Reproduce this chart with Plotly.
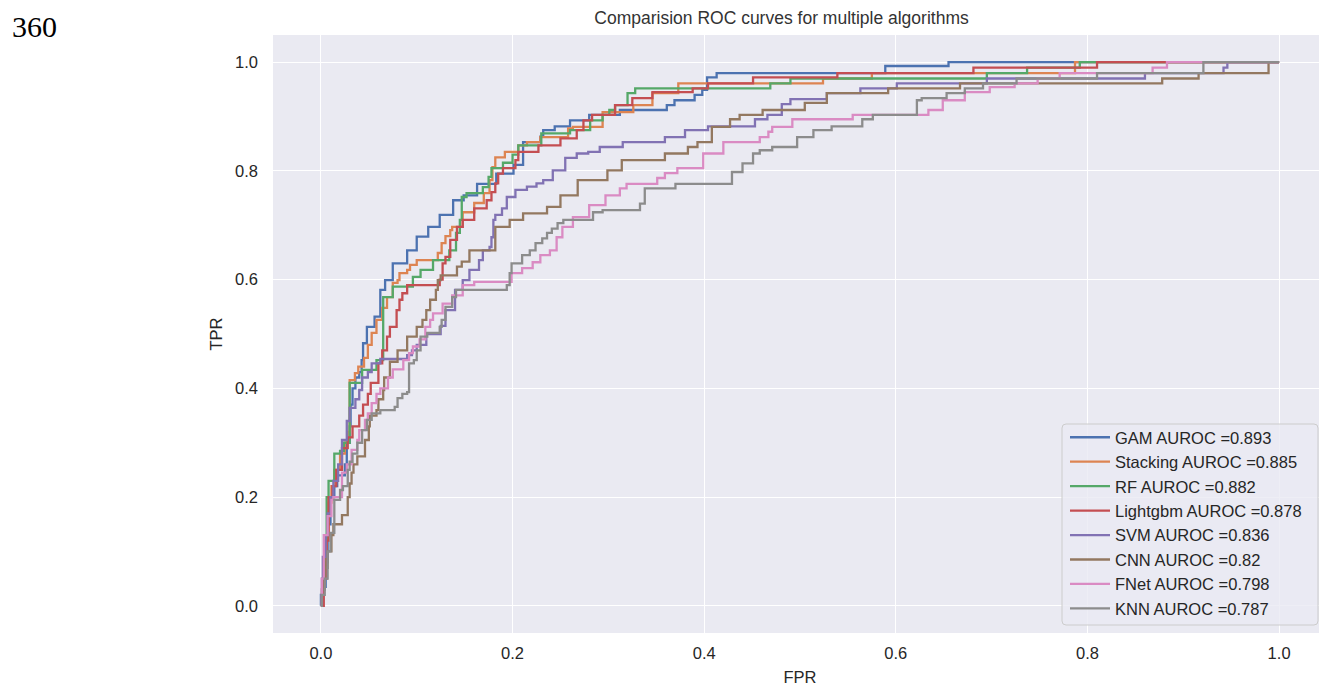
import plotly.graph_objects as go

# ---------------- data ----------------
labels = ["GAM AUROC =0.893", "Stacking AUROC =0.885", "RF AUROC =0.882",
          "Lightgbm AUROC =0.878", "SVM AUROC =0.836", "CNN AUROC =0.82",
          "FNet AUROC =0.798", "KNN AUROC =0.787"]
colors = ["#4C72B0", "#DD8452", "#55A868", "#C44E52", "#8172B3", "#937860", "#DA8BC3", "#8C8C8C"]

gam_fpr = [0, 0.0, 0.003, 0.005, 0.007, 0.01, 0.014, 0.017, 0.025, 0.027, 0.03, 0.031, 0.033, 0.036, 0.04,
           0.0425, 0.044, 0.048, 0.056, 0.062, 0.067, 0.075, 0.09, 0.1, 0.112, 0.124, 0.138, 0.149, 0.163,
           0.183, 0.201, 0.211, 0.229, 0.232, 0.244, 0.26, 0.28, 0.312, 0.361, 0.369, 0.39, 0.398, 0.403,
           0.413, 0.589, 0.655, 1.0]
gam_tpr = [0, 0.02, 0.035, 0.08, 0.15, 0.2, 0.22, 0.24, 0.26, 0.3, 0.33, 0.37, 0.4, 0.42, 0.43,
           0.452, 0.483, 0.513, 0.532, 0.581, 0.599, 0.63, 0.654, 0.679, 0.697, 0.719, 0.746, 0.755, 0.776,
           0.795, 0.811, 0.853, 0.863, 0.875, 0.882, 0.893, 0.903, 0.912, 0.921, 0.93, 0.94, 0.949, 0.972,
           0.98, 0.993, 1.0, 1.0]

stack_fpr = [0, 0.002, 0.004, 0.006, 0.008, 0.011, 0.014, 0.02, 0.025, 0.028, 0.03, 0.0355, 0.039, 0.045,
             0.049, 0.053, 0.058, 0.064, 0.069, 0.075, 0.08, 0.082, 0.09, 0.093, 0.1, 0.122, 0.126, 0.13,
             0.135, 0.137, 0.148, 0.16, 0.17, 0.176, 0.179, 0.182, 0.192, 0.206, 0.215, 0.229, 0.258, 0.263,
             0.294, 0.326, 0.346, 0.373, 0.524, 0.575, 0.787, 1.0]
stack_tpr = [0, 0.04, 0.08, 0.13, 0.19, 0.22, 0.25, 0.28, 0.3, 0.32, 0.415, 0.428, 0.44, 0.456,
             0.48, 0.502, 0.526, 0.548, 0.568, 0.594, 0.599, 0.612, 0.618, 0.627, 0.636, 0.649, 0.667, 0.68,
             0.691, 0.697, 0.724, 0.741, 0.759, 0.783, 0.807, 0.825, 0.835, 0.847, 0.853, 0.862, 0.878, 0.881,
             0.908, 0.921, 0.943, 0.961, 0.97, 0.98, 1.0, 1.0]

rf_fpr = [0, 0.002, 0.004, 0.006, 0.008, 0.014, 0.02, 0.024, 0.03, 0.043, 0.058, 0.065, 0.075, 0.096,
          0.104, 0.117, 0.134, 0.141, 0.145, 0.147, 0.152, 0.169, 0.175, 0.178, 0.19, 0.2, 0.206, 0.23,
          0.26, 0.281, 0.294, 0.301, 0.307, 0.32, 0.328, 0.469, 0.49, 0.695, 0.737, 0.792, 1.0]
rf_tpr = [0, 0.05, 0.12, 0.2, 0.23, 0.28, 0.285, 0.3, 0.41, 0.434, 0.452, 0.568, 0.587, 0.605,
          0.618, 0.636, 0.654, 0.686, 0.71, 0.752, 0.759, 0.77, 0.789, 0.805, 0.815, 0.83, 0.847, 0.869,
          0.875, 0.893, 0.903, 0.912, 0.921, 0.943, 0.952, 0.961, 0.97, 0.98, 0.99, 1.0, 1.0]

lgb_fpr = [0, 0.003, 0.006, 0.008, 0.012, 0.016, 0.022, 0.028, 0.033, 0.04, 0.044, 0.049, 0.052, 0.06,
           0.064, 0.069, 0.072, 0.079, 0.082, 0.085, 0.09, 0.124, 0.127, 0.13, 0.135, 0.142, 0.148, 0.16,
           0.173, 0.178, 0.182, 0.185, 0.19, 0.203, 0.206, 0.227, 0.25, 0.267, 0.274, 0.283, 0.307, 0.325,
           0.346, 0.388, 0.404, 0.451, 0.539, 0.681, 0.81, 1.0]
lgb_tpr = [0, 0.05, 0.12, 0.2, 0.22, 0.25, 0.29, 0.31, 0.33, 0.35, 0.37, 0.39, 0.41, 0.446,
           0.47, 0.495, 0.513, 0.544, 0.563, 0.575, 0.59, 0.6, 0.63, 0.642, 0.673, 0.697, 0.71, 0.731,
           0.746, 0.761, 0.777, 0.795, 0.805, 0.82, 0.835, 0.847, 0.86, 0.875, 0.893, 0.903, 0.921, 0.934,
           0.945, 0.952, 0.961, 0.972, 0.98, 0.99, 1.0, 1.0]

svm_fpr = [0, 0.001, 0.002, 0.005, 0.007, 0.01, 0.013, 0.018, 0.022, 0.027, 0.03, 0.036, 0.04, 0.043,
           0.049, 0.053, 0.062, 0.09, 0.095, 0.1, 0.11, 0.125, 0.13, 0.14, 0.148, 0.155, 0.165, 0.169,
           0.176, 0.178, 0.18, 0.182, 0.189, 0.194, 0.203, 0.215, 0.225, 0.232, 0.242, 0.255, 0.267, 0.279,
           0.291, 0.315, 0.359, 0.38, 0.404, 0.453, 0.466, 0.481, 0.49, 0.528, 0.563, 0.601, 0.695, 0.86,
           0.942, 0.946, 1.0]
svm_tpr = [0, 0.05, 0.09, 0.13, 0.17, 0.2, 0.23, 0.26, 0.305, 0.34, 0.364, 0.38, 0.397, 0.42,
           0.43, 0.446, 0.454, 0.461, 0.47, 0.48, 0.5, 0.515, 0.544, 0.581, 0.599, 0.618, 0.636, 0.654,
           0.66, 0.678, 0.71, 0.719, 0.731, 0.752, 0.765, 0.771, 0.777, 0.783, 0.801, 0.824, 0.832, 0.835,
           0.844, 0.853, 0.862, 0.875, 0.882, 0.895, 0.903, 0.923, 0.932, 0.943, 0.952, 0.961, 0.97, 0.98,
           0.99, 1.0, 1.0]

cnn_fpr = [0, 0.001, 0.004, 0.007, 0.011, 0.013, 0.022, 0.028, 0.03, 0.032, 0.034, 0.038, 0.046, 0.05,
           0.051, 0.058, 0.06, 0.065, 0.066, 0.072, 0.08, 0.09, 0.1, 0.106, 0.11, 0.114, 0.12, 0.122,
           0.125, 0.142, 0.147, 0.155, 0.182, 0.197, 0.211, 0.236, 0.25, 0.268, 0.299, 0.314, 0.359, 0.383,
           0.393, 0.408, 0.427, 0.437, 0.461, 0.505, 0.528, 0.592, 0.667, 0.878, 0.916, 0.989, 1.0]
cnn_tpr = [0, 0.03, 0.07, 0.1, 0.13, 0.15, 0.167, 0.2, 0.225, 0.245, 0.26, 0.275, 0.305, 0.33,
           0.35, 0.36, 0.38, 0.397, 0.42, 0.449, 0.47, 0.495, 0.513, 0.526, 0.544, 0.563, 0.581, 0.599,
           0.608, 0.624, 0.633, 0.654, 0.697, 0.71, 0.722, 0.734, 0.755, 0.783, 0.801, 0.82, 0.832, 0.844,
           0.853, 0.881, 0.895, 0.903, 0.912, 0.925, 0.943, 0.952, 0.961, 0.97, 0.98, 1.0, 1.0]

fnet_fpr = [0, 0.001, 0.003, 0.007, 0.011, 0.013, 0.022, 0.027, 0.032, 0.038, 0.04, 0.046, 0.049, 0.053,
            0.058, 0.062, 0.07, 0.075, 0.086, 0.092, 0.096, 0.103, 0.109, 0.114, 0.117, 0.127, 0.137, 0.148,
            0.16, 0.199, 0.21, 0.221, 0.229, 0.239, 0.246, 0.252, 0.263, 0.28, 0.297, 0.312, 0.319, 0.351,
            0.359, 0.372, 0.399, 0.42, 0.458, 0.467, 0.471, 0.492, 0.555, 0.634, 0.649, 0.672, 0.698, 0.724,
            0.748, 0.771, 0.868, 0.883, 1.0]
fnet_tpr = [0, 0.05, 0.13, 0.165, 0.195, 0.2, 0.245, 0.26, 0.287, 0.305, 0.323, 0.342, 0.354, 0.373,
            0.39, 0.4, 0.42, 0.435, 0.452, 0.465, 0.477, 0.49, 0.513, 0.526, 0.538, 0.556, 0.571, 0.59,
            0.596, 0.612, 0.621, 0.632, 0.645, 0.654, 0.678, 0.697, 0.715, 0.737, 0.755, 0.768, 0.776, 0.787,
            0.796, 0.805, 0.832, 0.853, 0.862, 0.872, 0.881, 0.895, 0.903, 0.912, 0.93, 0.945, 0.954, 0.961,
            0.97, 0.98, 0.99, 1.0, 1.0]

knn_fpr = [0, 0.001, 0.004, 0.007, 0.01, 0.014, 0.02, 0.023, 0.028, 0.03, 0.033, 0.038, 0.043, 0.048,
           0.053, 0.062, 0.077, 0.08, 0.085, 0.09, 0.092, 0.097, 0.1, 0.104, 0.111, 0.124, 0.126, 0.13,
           0.137, 0.141, 0.194, 0.197, 0.199, 0.21, 0.218, 0.224, 0.231, 0.236, 0.241, 0.247, 0.253, 0.284,
           0.294, 0.333, 0.338, 0.37, 0.429, 0.44, 0.451, 0.458, 0.471, 0.497, 0.514, 0.533, 0.565, 0.576,
           0.622, 0.627, 0.653, 0.672, 0.691, 0.726, 0.81, 0.921, 1.0]
knn_tpr = [0, 0.02, 0.05, 0.1, 0.134, 0.195, 0.213, 0.22, 0.25, 0.265, 0.28, 0.3, 0.323, 0.342,
           0.354, 0.36, 0.366, 0.382, 0.39, 0.393, 0.446, 0.452, 0.47, 0.495, 0.502, 0.513, 0.526, 0.55,
           0.568, 0.581, 0.59, 0.612, 0.63, 0.645, 0.654, 0.667, 0.676, 0.686, 0.694, 0.704, 0.71, 0.724,
           0.728, 0.74, 0.768, 0.776, 0.798, 0.814, 0.832, 0.838, 0.844, 0.862, 0.875, 0.882, 0.895, 0.903,
           0.93, 0.934, 0.943, 0.952, 0.961, 0.97, 0.98, 1.0, 1.0]

fprs = [gam_fpr, stack_fpr, rf_fpr, lgb_fpr, svm_fpr, cnn_fpr, fnet_fpr, knn_fpr]
tprs = [gam_tpr, stack_tpr, rf_tpr, lgb_tpr, svm_tpr, cnn_tpr, fnet_tpr, knn_tpr]

tick_vals = [0.0, 0.2, 0.4, 0.6, 0.8, 1.0]
tick_text = ["0.0", "0.2", "0.4", "0.6", "0.8", "1.0"]

# ---------------- figure ----------------
FONT = "Liberation Sans, Arial, sans-serif"
TXT = "#262626"
W, H = 1319, 684            # page body has an 8 px margin
L, R, T, B = 265, 0, 27, 59
PW, PH = W - L - R, H - T - B


def px_x(fx):   # figure pixel -> paper x
    return (fx - L) / PW


def px_y(fy):   # figure pixel -> paper y
    return (H - B - fy) / PH


fig = go.Figure()
for fx, ty, name, col in zip(fprs, tprs, labels, colors):
    fig.add_trace(go.Scatter(x=fx, y=ty, mode="lines", name=name,
                             line=dict(color=col, width=2.3, shape="hv")))

axis_common = dict(range=[-0.05, 1.05], tickvals=tick_vals, ticktext=tick_text, automargin=False,
                   showgrid=True, gridcolor="white", gridwidth=1.4, zeroline=False,
                   showline=False, ticks="", tickfont=dict(family=FONT, size=16.5, color=TXT))

# legend frame (rounded, like matplotlib's fancy box)
x0, x1 = px_x(1054), px_x(1310)
y0, y1 = px_y(617), px_y(416)
rx, ry = 4 / PW, 4 / PH
frame_path = (f"M {x0+rx},{y0} L {x1-rx},{y0} Q {x1},{y0} {x1},{y0+ry} L {x1},{y1-ry} "
              f"Q {x1},{y1} {x1-rx},{y1} L {x0+rx},{y1} Q {x0},{y1} {x0},{y1-ry} "
              f"L {x0},{y0+ry} Q {x0},{y0} {x0+rx},{y0} Z")

fig.update_layout(
    width=W, height=H,
    margin=dict(l=L, r=R, t=T, b=B, autoexpand=False),
    paper_bgcolor="white", plot_bgcolor="#EAEAF2",
    font=dict(family=FONT, color=TXT),
    title=dict(text="Comparision ROC curves for multiple algorithms", x=px_x(773.5), xanchor="center",
               xref="paper", yref="container", y=1 - 10 / H, yanchor="middle", automargin=False,
               font=dict(family=FONT, size=17.5, color="#333333")),
    xaxis=dict(**axis_common, ticklabelstandoff=8,
               title=dict(text="FPR", standoff=10, font=dict(family=FONT, size=16.5, color=TXT))),
    yaxis=dict(**axis_common, ticklabelstandoff=14,
               title=dict(text="TPR", standoff=8, font=dict(family=FONT, size=16.5, color=TXT))),
    legend=dict(x=px_x(1057), y=px_y(412), xanchor="left", yanchor="top",
                bgcolor="rgba(0,0,0,0)", borderwidth=0, itemwidth=40,
                font=dict(family=FONT, size=16.5, color=TXT), tracegroupgap=0),
    shapes=[dict(type="path", path=frame_path, xref="paper", yref="paper", layer="above",
                 fillcolor="rgba(234,234,242,0.8)", line=dict(color="#CCCCCC", width=1))],
    showlegend=True,
)

fig.add_annotation(text="360", xref="paper", yref="paper", x=px_x(2), y=px_y(0),
                   xanchor="left", yanchor="top", showarrow=False,
                   font=dict(family="Liberation Serif, Times New Roman, serif", size=30, color="black"))

fig.write_html("out.html")
